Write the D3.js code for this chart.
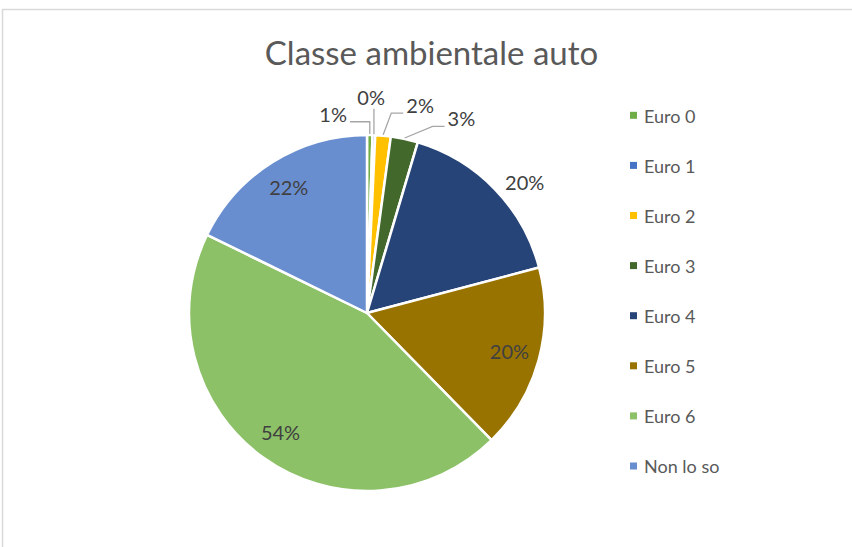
<!DOCTYPE html>
<html lang="it">
<head>
    <meta charset="UTF-8">
    <title>Classe ambientale auto</title>
    <script src="https://d3js.org/d3.v7.min.js"></script>
    <style>
        body {
            margin: 0;
            background: #ffffff;
            font-family: Lato, "Liberation Sans", sans-serif;
        }
        .title {
            font-size: 33px;
            fill: #595959;
        }
        .legend-label {
            font-size: 18px;
            fill: #595959;
        }
        .data-label {
            font-size: 20px;
            fill: #404040;
        }
        .leader {
            fill: none;
            stroke: #a6a6a6;
            stroke-width: 1.3;
        }
    </style>
</head>
<body>
    <div id="chart"></div>

    <script>
        // Data (share of respondents, shown as %)
        const categories = ['Euro 0', 'Euro 1', 'Euro 2', 'Euro 3', 'Euro 4', 'Euro 5', 'Euro 6', 'Non lo so'];
        const shares = [0.006, 0.003, 0.017, 0.030, 0.198, 0.204, 0.542, 0.216];
        const colors = ['#70ad47', '#4472c4', '#ffc000', '#43682b', '#264478', '#997300', '#8cc168', '#698ed0'];

        // where Excel put the labels that sit outside the pie (angle in degrees, radius as a factor of R)
        const outsideLabels = {
            'Euro 0': {angle: 350.3, r: 1.13},
            'Euro 1': {angle: 1.1, r: 1.21},
            'Euro 2': {angle: 14.4, r: 1.2},
            'Euro 3': {angle: 26, r: 1.21},
            'Euro 4': {angle: 50.4, r: 1.15, noLine: true}
        };

        const width = 852, height = 547;
        const cx = 367, cy = 313, radius = 178;

        const data = categories.map((c, i) => ({name: c, value: shares[i], color: colors[i]}));

        const svg = d3.select('#chart')
            .append('svg')
            .attr('width', width)
            .attr('height', height);

        // chart area border
        svg.append('rect')
            .attr('x', 2.5)
            .attr('y', 9.5)
            .attr('width', width + 10)
            .attr('height', height + 10)
            .attr('fill', 'none')
            .attr('stroke', '#d9d9d9')
            .attr('stroke-width', 1.5);

        svg.append('text')
            .attr('class', 'title')
            .attr('x', 431.5)
            .attr('y', 64.5)
            .attr('text-anchor', 'middle')
            .text('Classe ambientale auto');

        const pie = d3.pie()
            .value(d => d.value)
            .sort(null);

        const arc = d3.arc()
            .innerRadius(0)
            .outerRadius(radius);

        const g = svg.append('g')
            .attr('transform', `translate(${cx},${cy})`);

        const arcs = pie(data);

        g.selectAll('path.slice')
            .data(arcs)
            .enter().append('path')
            .attr('class', 'slice')
            .attr('d', arc)
            .attr('fill', d => d.data.color)
            .attr('stroke', '#ffffff')
            .attr('stroke-width', 2.5)
            .attr('stroke-linejoin', 'round');

        const fmt = d3.format('.0%');
        const polar = (deg, r) => {
            const a = deg * Math.PI / 180;
            return [r * Math.sin(a), -r * Math.cos(a)];
        };

        arcs.forEach(d => {
            const mid = (d.startAngle + d.endAngle) / 2 * 180 / Math.PI;
            const out = outsideLabels[d.data.name];
            let pos;
            if (out) {
                pos = polar(out.angle, out.r * radius);
            } else {
                pos = polar(mid, radius * 0.83);
            }
            const label = g.append('text')
                .attr('class', 'data-label')
                .attr('x', pos[0])
                .attr('y', pos[1])
                .attr('dy', '0.35em')
                .attr('text-anchor', 'middle')
                .text(fmt(d.data.value));

            if (out && !out.noLine) {
                const bb = label.node().getBBox();
                const A = polar(mid, radius + 1);
                const yL = bb.y + bb.height - 4;
                let pts;
                if (A[0] > bb.x && A[0] < bb.x + bb.width) {
                    pts = [A, [A[0], bb.y + bb.height]];
                } else if (A[0] > bb.x + bb.width) {
                    // label on the left: up, then across
                    const nx = bb.x + bb.width + 3;
                    pts = [A, [A[0], yL], [nx, yL]];
                } else {
                    const nx = bb.x - 3;
                    pts = [A, [nx - Math.min(12, nx - A[0]), yL], [nx, yL]];
                }
                g.insert('path', 'text')
                    .attr('class', 'leader')
                    .attr('d', d3.line()(pts));
            }
        });

        // legend
        const legend = svg.append('g')
            .attr('transform', 'translate(630,116.3)');

        const item = legend.selectAll('g')
            .data(data)
            .enter().append('g')
            .attr('transform', (d, i) => `translate(0,${i * 50.1})`);

        item.append('rect')
            .attr('x', 0)
            .attr('y', -4.5)
            .attr('width', 7)
            .attr('height', 7)
            .attr('fill', d => d.color);

        item.append('text')
            .attr('class', 'legend-label')
            .attr('x', 14)
            .attr('y', 0)
            .attr('dy', '0.35em')
            .text(d => d.name);
    </script>
</body>
</html>
